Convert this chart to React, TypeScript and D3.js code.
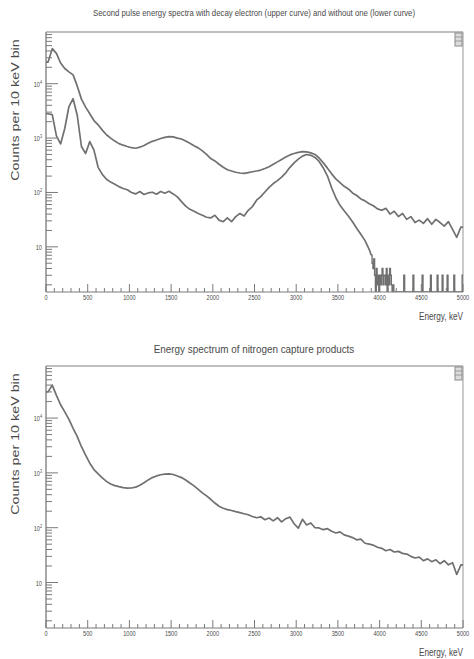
import React from "react";
import * as d3 from "d3";

// ---- data (counts per bin) ----
const energyTicks = [0, 500, 1000, 1500, 2000, 2500, 3000, 3500, 4000, 4500, 5000];
const decadeTicks = [10, 100, 1000, 10000];
const BIN_KEV = 50;
const TAIL_START_KEV = 3900;
const TAIL_BIN_KEV = 10;

// upper curve of the first panel (with decay electron), 50 keV bins from 0 keV
const withElectron = [
  25000, 44000, 36000, 24000, 19000, 16500, 14500, 9000, 5200, 3700,
  2800, 2100, 1750, 1400, 1150, 1000, 880, 790, 740, 700,
  665, 650, 680, 730, 800, 870, 920, 980, 1030, 1060,
  1050, 1000, 960, 880, 800, 720, 660, 580, 500, 420,
  380, 330, 290, 262, 248, 235, 228, 224, 232, 240,
  248, 258, 275, 298, 330, 365, 405, 450, 490, 520,
  545, 565, 558, 535, 500, 430, 350, 280, 220, 178,
  152, 130, 116, 98, 88, 76, 70, 62, 57, 50,
  47, 51, 40, 45, 36, 41, 32, 36, 28, 31,
  27, 33, 26, 32, 28, 24, 29, 21, 15, 23,
];

// lower curve of the first panel (without decay electron), 50 keV bins 0..3900 keV
const withoutElectron = [
  2800, 2700, 1100, 780, 1500, 3800, 5300, 2600, 700, 520,
  860, 600, 290, 215, 175, 155, 142, 128, 118, 112,
  100, 94, 104, 92, 98, 101, 93, 104, 97, 105,
  94, 83, 68, 56, 49, 45, 41, 38, 35, 34,
  38, 31, 29, 34, 29, 36, 41, 37, 47, 55,
  72, 84, 102, 124, 146, 165, 192, 230, 290, 350,
  410, 465, 498, 482, 440, 372, 282, 200, 122, 80,
  58, 46, 37, 29, 22, 17, 13, 9,
];

// sparse tail of the lower curve, 10 keV bins 3900..5000 keV
const withoutElectronTail = [
  7, 5, 4, 6, 3, 1, 4, 2, 3, 1,
  3, 2, 3, 4, 2, 3, 3, 2, 4, 1,
  3, 2, 4, 3, 2, 1, 2, 1, 1, 0,
  1, 0, 1, 1, 0, 1, 0, 1, 1, 3,
  1, 1, 0, 1, 1, 1, 0, 1, 1, 0,
  3, 1, 0, 1, 1, 1, 0, 0, 1, 1,
  1, 3, 0, 1, 1, 0, 1, 0, 1, 0,
  1, 3, 1, 0, 1, 1, 1, 0, 0, 3,
  1, 0, 0, 1, 0, 3, 0, 1, 1, 0,
  1, 3, 0, 1, 1, 0, 1, 0, 1, 3,
  0, 1, 0, 1, 1, 0, 1, 1, 1, 3,
];

// second panel: nitrogen capture products, 50 keV bins from 0 keV
const nitrogenCapture = [
  30000, 40000, 26000, 17500, 13000, 9500, 6500, 4600, 3000, 2100,
  1500, 1150, 960, 810, 700, 625, 585, 560, 540, 528,
  530, 548, 595, 660, 745, 820, 880, 925, 950, 962,
  935, 875, 820, 740, 655, 580, 500, 432, 380, 330,
  282, 246, 226, 214, 206, 196, 188, 180, 172, 160,
  152, 158, 140, 150, 133, 152, 128, 146, 156, 118,
  98, 142, 112, 122, 100, 99, 92, 96, 86, 80,
  84, 74, 70, 66, 60, 62, 52, 50, 48, 44,
  42, 38, 40, 36, 37, 34, 33, 30, 28, 29,
  25, 27, 24, 26, 22, 25, 21, 23, 14, 21,
];

const topTitle =
  "Second pulse energy spectra with decay electron (upper curve) and without one (lower curve)";
const bottomTitle = "Energy spectrum of nitrogen capture products";
const xTitle = "Energy, keV";
const yTitle = "Counts per 10 keV bin";

// ---- helpers ----
type Pt = [number, number];

// bin contents placed at bin centres, plus the outer bin edges
function binCentres(values: number[], start: number, width: number, closeEnd: boolean): Pt[] {
  const pts: Pt[] = [[start, values[0]]];
  values.forEach((v, i) => pts.push([start + (i + 0.5) * width, v]));
  if (closeEnd) pts.push([start + values.length * width, values[values.length - 1]]);
  return pts;
}
function binEdges(values: number[], start: number, width: number): Pt[] {
  const pts: Pt[] = values.map((v, i) => [start + i * width, v] as Pt);
  pts.push([start + values.length * width, values[values.length - 1]]);
  return pts;
}

const W = 474;
const H = 659;
const LEFT = 46;
const RIGHT = 463;
const Y_MIN = Math.pow(10, 0.17);
const Y_MAX = Math.pow(10, 4.95);

const CURVE = "#707070";
const AXIS = "#7a7a7a";
const FRAME = "#a8a8a8";
const TEXT = "#4a4a4a";
const SANS = "'Liberation Sans', Arial, Helvetica, sans-serif";

function Condensed({ x, y, sx, size, anchor, children, rotate }: any) {
  const t = `translate(${x},${y})${rotate ? " rotate(-90)" : ""} scale(${sx},1)`;
  return (
    <text transform={t} fontSize={size} textAnchor={anchor || "middle"} fill={TEXT} fontFamily={SANS}>
      {children}
    </text>
  );
}

function Panel({ top, bottom, lines, steps, title, titleY, titleSize, titleSx, id }: any) {
  const x = d3.scaleLinear().domain([0, 5000]).range([LEFT, RIGHT]);
  const y = d3.scaleLog().domain([Y_MIN, Y_MAX]).range([bottom, top]).clamp(true);
  const smooth = d3
    .line<Pt>()
    .x((d) => x(d[0]))
    .y((d) => y(Math.max(d[1], 0.5)));
  const step = d3
    .line<Pt>()
    .x((d) => x(d[0]))
    .y((d) => y(Math.max(d[1], 0.5)))
    .curve(d3.curveStepAfter);

  const minorX = d3.range(0, 5001, 100).filter((v) => v % 500 !== 0);
  const minorY: number[] = [];
  for (let p = 0; p <= 4; p++) {
    for (let m = 2; m <= 9; m++) {
      const v = m * Math.pow(10, p);
      if (v >= Y_MIN && v <= Y_MAX) minorY.push(v);
    }
  }
  const sup = (v: number) => Math.round(Math.log10(v));

  return (
    <g>
      <defs>
        <clipPath id={id}>
          <rect x={LEFT} y={top} width={RIGHT - LEFT} height={bottom - top} />
        </clipPath>
      </defs>
      <Condensed x={254} y={titleY} sx={titleSx} size={titleSize}>
        {title}
      </Condensed>
      {/* frame */}
      <line x1={LEFT} x2={RIGHT} y1={top} y2={top} stroke={FRAME} strokeWidth={1.5} />
      <line x1={RIGHT} x2={RIGHT} y1={top} y2={bottom} stroke={FRAME} strokeWidth={1.2} />
      {/* curves */}
      <g clipPath={`url(#${id})`}>
        {lines.map((pts: Pt[], i: number) => (
          <path key={"l" + i} d={smooth(pts) || ""} fill="none" stroke={CURVE} strokeWidth={1.7} strokeLinejoin="round" />
        ))}
        {steps.map((pts: Pt[], i: number) => (
          <path key={"s" + i} d={step(pts) || ""} fill="none" stroke={CURVE} strokeWidth={1.4} />
        ))}
      </g>
      {/* x axis */}
      <line x1={LEFT} x2={RIGHT} y1={bottom} y2={bottom} stroke={AXIS} strokeWidth={1.2} />
      {energyTicks.map((t) => (
        <line key={"xM" + t} x1={x(t)} x2={x(t)} y1={bottom} y2={bottom - 8} stroke={AXIS} strokeWidth={1} />
      ))}
      {minorX.map((t) => (
        <line key={"xm" + t} x1={x(t)} x2={x(t)} y1={bottom} y2={bottom - 4} stroke={AXIS} strokeWidth={1} />
      ))}
      {energyTicks.map((t) => (
        <Condensed key={"xl" + t} x={x(t)} y={bottom + 8} sx={0.7} size={8}>
          {String(t)}
        </Condensed>
      ))}
      <Condensed x={RIGHT} y={bottom + 28} sx={0.82} size={10} anchor="end">
        {xTitle}
      </Condensed>
      {/* y axis */}
      <line x1={LEFT} x2={LEFT} y1={top} y2={bottom} stroke={AXIS} strokeWidth={1.3} />
      {decadeTicks.map((t) => (
        <line key={"yM" + t} x1={LEFT} x2={LEFT + 12} y1={y(t)} y2={y(t)} stroke={AXIS} strokeWidth={1} />
      ))}
      {minorY.map((t) => (
        <line key={"ym" + t} x1={LEFT} x2={LEFT + 6} y1={y(t)} y2={y(t)} stroke={AXIS} strokeWidth={1} />
      ))}
      {decadeTicks.map((t) => (
        <text
          key={"yl" + t}
          x={LEFT - 4}
          y={y(t) + 3}
          fontSize={7.5}
          textAnchor="end"
          fill={TEXT}
          fontFamily={SANS}
          transform={`translate(${(LEFT - 4) * 0.25},0) scale(0.75,1)`}
        >
          10
          {sup(t) > 1 ? (
            <tspan dy={-3} fontSize={5}>
              {String(sup(t))}
            </tspan>
          ) : null}
        </text>
      ))}
      <Condensed x={19} y={top + 78} sx={1.3} size={11} rotate>
        {yTitle}
      </Condensed>
      {/* stat box */}
      <rect x={RIGHT - 8} y={top + 1} width={7} height={13} fill="#dcdcdc" stroke="#8a8a8a" strokeWidth={1} />
      <line x1={RIGHT - 8} x2={RIGHT - 1} y1={top + 5} y2={top + 5} stroke="#8a8a8a" strokeWidth={0.8} />
      <line x1={RIGHT - 8} x2={RIGHT - 1} y1={top + 9} y2={top + 9} stroke="#8a8a8a" strokeWidth={0.8} />
    </g>
  );
}

export default function App() {
  const upper = binCentres(withElectron, 0, BIN_KEV, true);
  const lowerMain = binCentres(withoutElectron, 0, BIN_KEV, false);
  lowerMain.push([TAIL_START_KEV, withoutElectronTail[0]]);
  const lowerTail = binEdges(withoutElectronTail, TAIL_START_KEV, TAIL_BIN_KEV);
  const nitrogen = binCentres(nitrogenCapture, 0, BIN_KEV, true);

  return (
    <svg
      width={W}
      height={H}
      viewBox={`0 0 ${W} ${H}`}
      style={{ position: "absolute", left: 0, top: 0, background: "#fff" }}
    >
      <rect width={W} height={H} fill="#fff" />
      <Panel id="clipTop" top={32} bottom={292} lines={[upper, lowerMain]} steps={[lowerTail]} title={topTitle} titleY={16} titleSize={9.5} titleSx={0.82} />
      <Panel id="clipBot" top={366} bottom={628} lines={[nitrogen]} steps={[]} title={bottomTitle} titleY={353} titleSize={11} titleSx={0.9} />
    </svg>
  );
}
